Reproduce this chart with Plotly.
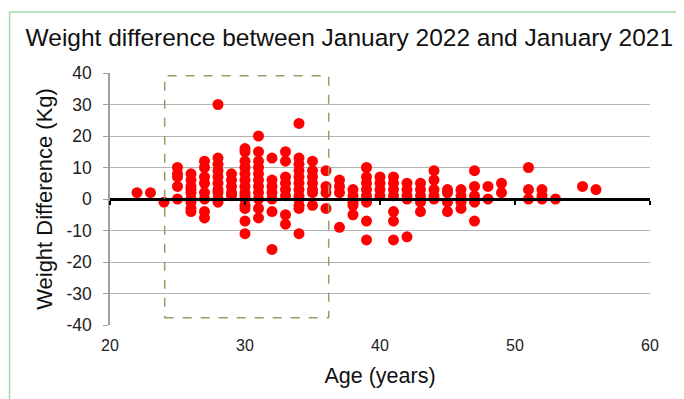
import plotly.graph_objects as go

# Data (age in years, weight difference in kg)
columns_age = [22, 23, 24, 25, 26, 27, 28, 29, 30, 31, 32, 33, 34, 35, 36, 37, 38, 39,
               40, 41, 42, 43, 44, 45, 46, 47, 48, 49, 51, 52, 53, 55, 56]
columns_diff = [
    [2],
    [2],
    [-1],
    [10, 8, 7, 4, 0],
    [8, 6, 4, 3, 2, 0, -1, -3, -4],
    [12, 10, 7, 5, 2, 0, -4, -6],
    [30, 13, 11, 9, 7, 5, 3, 2, 0, -1],
    [8, 6, 4, 2, 1],
    [16, 15, 12, 10, 8, 6, 4, 2, 1, 0, -2, -3, -7, -11],
    [20, 15, 12, 10, 8, 6, 4, 2, 0, -3, -6],
    [13, 6, 4, 2, 0, -4, -16],
    [15, 12, 7, 5, 3, 1, -5, -8],
    [24, 13, 11, 9, 7, 5, 3, 1, 0, -2, -3, -11],
    [12, 9, 7, 5, 3, 2, -2],
    [9, 4, 2, -3],
    [6, 4, 2, -9],
    [3, 1, -1, -2, -5],
    [10, 7, 5, 3, 1, -1, -7, -13],
    [7, 5, 3, 1],
    [7, 5, 3, 1, -4, -7, -13],
    [5, 3, 1, 0, -12],
    [5, 3, 1, -1, -4],
    [9, 6, 3, 1, 0],
    [3, 2, -1, -4],
    [3, 1, -1, -3],
    [9, 4, 1, -1, -7],
    [4, 0],
    [5, 2],
    [10, 3, 0],
    [3, 1, 0],
    [0],
    [4],
    [3],
]
x_ticks = [20, 30, 40, 50, 60]
y_ticks = [-40, -30, -20, -10, 0, 10, 20, 30, 40]
y_tick_labels = ["-40", "-30", "-20", "-10", "0", "10", "20", "30", "40"]
box_age = [24.05, 36.2]
box_diff = [-37.7, 39.1]

ages = []
diffs = []
for a, col in zip(columns_age, columns_diff):
    for d in col:
        ages.append(a)
        diffs.append(d)

FONT = "Liberation Sans, Arial, sans-serif"
fig = go.Figure()
fig.add_trace(go.Scatter(x=ages, y=diffs, mode="markers",
                         marker=dict(color="#ff0000", size=11, line=dict(width=0)),
                         showlegend=False, hoverinfo="x+y"))
# invisible trace for the zero-crossing axis
fig.add_trace(go.Scatter(x=[20, 60], y=[0, 0], xaxis="x2", mode="lines",
                         line=dict(width=0), showlegend=False, hoverinfo="skip"))

fig.add_shape(type="rect", x0=box_age[0], x1=box_age[1], y0=box_diff[0], y1=box_diff[1],
              xref="x", yref="y", line=dict(color="#9a9a62", width=1.5, dash="dash"))

# green frame
fig.add_shape(type="line", xref="paper", yref="paper", x0=-0.186, x1=-0.186, y0=-0.4, y1=1.242,
              line=dict(color="#9fdaa8", width=1.5))
fig.add_shape(type="line", xref="paper", yref="paper", x0=-0.186, x1=1.3, y0=1.242, y1=1.242,
              line=dict(color="#9fdaa8", width=1.5))

fig.update_layout(
    width=684, height=399,
    margin=dict(l=102, r=42, t=65, b=82),
    paper_bgcolor="white", plot_bgcolor="white",
    font=dict(family=FONT, color="#111111"),
    title=dict(text="Weight difference between January 2022 and January 2021",
               x=0.499, xanchor="center", y=0.927, yanchor="middle",
               font=dict(size=24.5, family=FONT, color="#111111")),
    xaxis=dict(range=[20, 60], tickvals=x_ticks, showgrid=False, zeroline=False,
               showline=False, ticks="outside", ticklen=6, tickcolor="rgba(0,0,0,0)",
               tickfont=dict(size=16, color="#222222"),
               title=dict(text="Age (years)", font=dict(size=21.5, color="#111111"), standoff=14)),
    xaxis2=dict(range=[20, 60], tickvals=x_ticks, overlaying="x", anchor="free", position=0.5,
                side="bottom", showline=True, linecolor="black", linewidth=2.5,
                ticks="outside", ticklen=4, tickwidth=1.5, tickcolor="black",
                showticklabels=False, showgrid=False, zeroline=False),
    yaxis=dict(range=[-40, 40], tickvals=y_ticks, ticktext=y_tick_labels,
               showgrid=True, gridcolor="#b4b4b4",
               gridwidth=1, zeroline=False, showline=True, linecolor="#a0a0a0", linewidth=1.5,
               ticks="outside", ticklen=5, tickcolor="#a0a0a0",
               ticklabelstandoff=8,
               tickfont=dict(size=17.5, color="#222222"),
               title=dict(text="Weight Difference (Kg)", font=dict(size=22, color="#111111"),
                          standoff=8)),
)

fig.write_html("out.html")
